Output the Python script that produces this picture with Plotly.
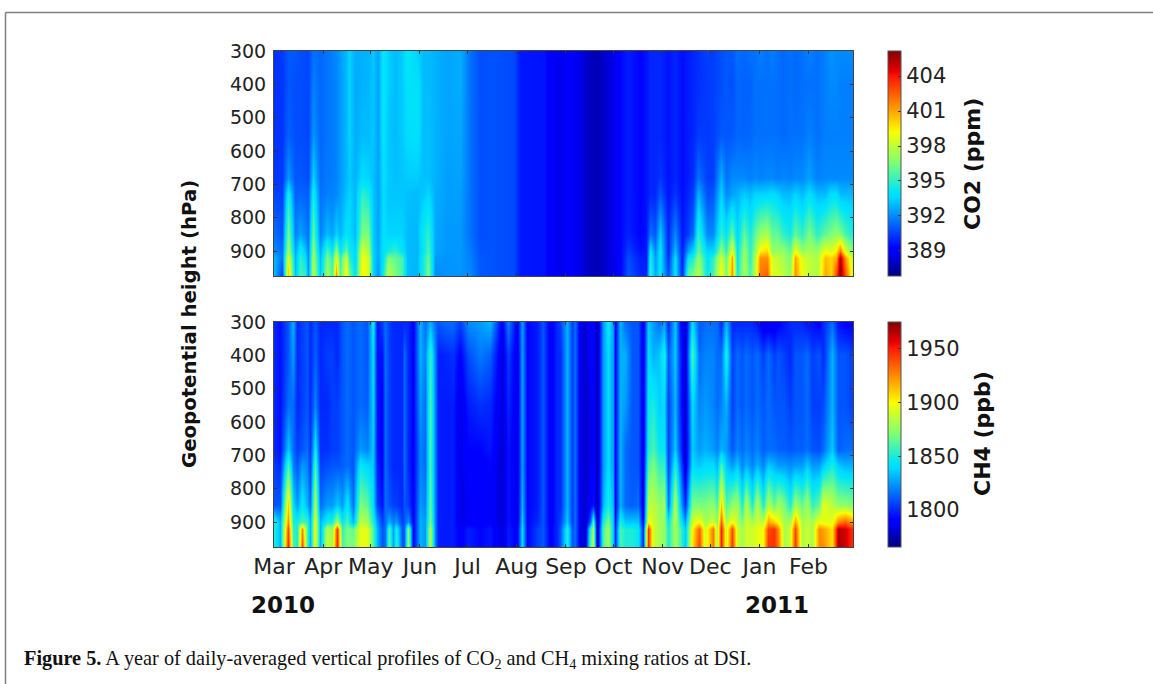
import numpy as np
import plotly.graph_objects as go

levels = [300, 400, 550, 680, 730, 850, 900, 920, 975]
month_days = [0, 31, 61, 92, 122, 153, 184, 214, 245, 275, 306, 337]
month_labels = ["Mar", "Apr", "May", "Jun", "Jul", "Aug", "Sep", "Oct", "Nov", "Dec", "Jan", "Feb"]
pressure_ticks = [300, 400, 500, 600, 700, 800, 900]
co2_ticks = [389, 392, 395, 398, 401, 404]
ch4_ticks = [1800, 1850, 1900, 1950]

# ---- CO2 (ppm): one profile per date, levels as above ----
co2_days_spring = [0, 4.8, 9, 13.2, 16.4, 19.6, 21.6, 24.8, 29, 33.2, 36.4, 39, 41.6, 45.4, 47.5, 51, 55.3, 59.5, 62.6, 65.8, 68.5, 72, 76.3, 80.5, 83.6, 90, 94, 97.3, 101.5]
co2_spring = [
    [390.2, 390.2, 390.2, 390.3, 390.6, 391.5, 392, 393, 393],
    [390.4, 390.3, 390.3, 390.4, 390.5, 391, 391.5, 391.5, 390.5],
    [391, 391, 391.2, 392.3, 394.5, 396.5, 397.5, 399, 400.5],
    [391, 390.8, 390.8, 391, 391.2, 391.8, 392.5, 392.8, 393],
    [390.8, 390.8, 390.8, 391, 391.3, 392.5, 394.5, 395, 395.5],
    [390.7, 390.7, 390.7, 390.9, 391.2, 392, 393.2, 394, 395],
    [390.7, 390.6, 390.6, 390.7, 391, 391.5, 391.8, 392, 392],
    [391.5, 391.8, 392.2, 393.5, 394.5, 396, 397, 397.5, 398],
    [391.3, 391.3, 391.3, 391.4, 391.5, 391.8, 392.5, 393, 393.2],
    [391.6, 391.6, 391.6, 391.7, 391.8, 393, 395.5, 396.5, 397.5],
    [391.8, 391.7, 391.7, 391.7, 391.8, 392.5, 394, 395, 395.5],
    [392, 391.9, 391.9, 391.9, 392, 393.5, 397, 399, 401.5],
    [392.4, 392.3, 392.3, 392.3, 392.4, 392.8, 394, 395, 395.5],
    [392.9, 392.9, 392.9, 392.9, 393.1, 394, 396, 398.5, 399.5],
    [393.5, 393.5, 393.5, 393.3, 393.5, 393.7, 394.5, 395, 396.5],
    [392.7, 392.6, 392.7, 392.8, 392.9, 393, 393.5, 393.5, 394],
    [392.8, 392.8, 393, 393.7, 395, 396.5, 398.5, 399, 399.5],
    [392.8, 392.9, 393, 393.5, 394.5, 396.5, 397.5, 398.5, 398.5],
    [393.2, 393.2, 393.2, 393.1, 393.2, 393.3, 393.5, 393.5, 393.5],
    [392.5, 392.5, 392.5, 392.5, 392.5, 392.5, 392.6, 392.6, 392.2],
    [394.2, 394.2, 394, 393.8, 393.7, 393.9, 394, 394, 394.5],
    [393.4, 393.4, 393.2, 393.3, 393.2, 393.5, 394.5, 396.5, 398],
    [393, 393, 393, 393.1, 393.2, 393.5, 395, 396, 396.5],
    [393.3, 393.3, 393.3, 393.2, 393.2, 393.5, 394, 395.5, 395.5],
    [394.2, 394, 393.7, 393.3, 393.1, 393, 393, 393, 393],
    [393.4, 393.9, 393.9, 393.3, 393, 392.9, 392.9, 392.9, 392.8],
    [393, 393, 393, 393.1, 393.2, 394.3, 394, 394.5, 394.5],
    [393, 393, 393.1, 393.1, 393.6, 395, 395.5, 396, 396.5],
    [392.8, 392.8, 392.8, 392.8, 392.7, 392.6, 392.5, 392.3, 392],
]
co2_days_summer = [109, 117, 123.6, 130, 138, 151, 155, 170, 174, 180, 186.6, 193, 198, 203.5, 208, 215, 219, 223.4, 231, 234.6]
co2_summer = [
    [392.5, 392.5, 392.5, 392.4, 392.4, 392.3, 392.3, 392.2, 392.2],
    [392.7, 392.7, 392.6, 392.5, 392.4, 392.3, 392.3, 392.3, 392.2],
    [391.5, 391.5, 391.5, 391.5, 391.5, 391.5, 391.7, 391.8, 392],
    [390.8, 390.8, 390.8, 390.8, 390.8, 390.8, 390.9, 391, 391],
    [390.9, 390.9, 390.9, 390.9, 390.9, 390.9, 390.9, 390.9, 390.9],
    [390.7, 390.7, 390.7, 390.7, 390.7, 390.7, 390.7, 390.7, 390.7],
    [389.7, 389.7, 389.7, 389.7, 389.7, 389.7, 389.7, 389.7, 389.7],
    [389.6, 389.6, 389.6, 389.6, 389.6, 389.6, 389.6, 389.6, 389.6],
    [388.9, 388.9, 388.9, 388.9, 388.9, 388.9, 388.9, 388.9, 388.9],
    [388.7, 388.7, 388.7, 388.7, 388.7, 388.7, 388.7, 388.7, 388.7],
    [389, 389, 389, 389, 389, 389, 389, 389, 389],
    [388.6, 388.6, 388.6, 388.6, 388.6, 388.6, 388.6, 388.6, 388.6],
    [388, 388, 388, 388, 388, 388, 388, 388, 388],
    [387.7, 387.7, 387.7, 387.7, 387.7, 387.7, 387.7, 387.7, 387.7],
    [388.2, 388.2, 388.2, 388.2, 388.2, 388.2, 388.2, 388.2, 388.2],
    [388.7, 388.7, 388.7, 388.7, 388.7, 388.7, 388.7, 388.7, 388.7],
    [389.4, 389.4, 389.4, 389.4, 389.4, 389.4, 389.4, 389.4, 389.4],
    [389.8, 389.8, 389.8, 389.8, 389.8, 389.9, 390.5, 390.8, 391],
    [389.3, 389.3, 389.3, 389.3, 389.3, 389.3, 389.5, 389.8, 390],
    [389.6, 389.6, 389.6, 389.6, 389.6, 389.6, 389.7, 389.8, 390],
]
co2_days_autumn = [237, 240, 243.4, 248.6, 253, 257, 261, 264.4, 267.5, 273, 277, 281.5, 285, 288.8, 292, 296, 300, 303.2]
co2_autumn = [
    [390, 390, 390, 390, 390, 391.5, 394, 394.5, 395],
    [390, 390, 390, 390, 390, 391, 392, 392.3, 392.5],
    [390, 390, 390, 390.3, 391, 393.3, 394, 394, 394],
    [389.6, 389.6, 389.6, 389.6, 389.6, 390, 390, 390.2, 390.8],
    [390, 390, 390, 390, 390.3, 392, 393, 393.8, 394],
    [389.5, 389.5, 389.5, 389.5, 389.5, 389.7, 389.8, 389.8, 390],
    [389.8, 389.8, 389.8, 389.8, 390, 390.5, 392.5, 394, 396],
    [390, 390, 390, 390.2, 390.5, 391.5, 393.5, 394.8, 396.5],
    [390.2, 390.2, 390.4, 391.5, 392.8, 395, 396, 397, 398],
    [390.5, 390.4, 390.4, 390.5, 390.8, 392, 393.5, 394, 394],
    [390.5, 390.5, 390.5, 390.5, 391, 392, 393.5, 395, 395.5],
    [390.8, 390.8, 391, 392.8, 393.5, 395, 397, 398.5, 399.5],
    [391, 391, 391, 391.5, 392, 394, 395, 396, 396.5],
    [391, 390.8, 391, 392, 392.5, 396, 399, 401, 401.5],
    [391.5, 391.3, 391.3, 392, 392.8, 393.5, 394, 394, 394.5],
    [391.3, 391.2, 391.2, 392, 393.3, 396, 397, 397.5, 397.5],
    [391.5, 391.2, 391.3, 391.8, 393, 394.5, 395, 395, 395.5],
    [391.5, 391.5, 391.5, 392, 393.5, 396, 397, 397.8, 398],
]
co2_days_winter = [306.4, 310.7, 314, 317, 321, 325.5, 328.6, 333, 337, 342.2, 347.5, 351, 354, 357, 360, 365]
co2_winter = [
    [391.8, 391.5, 391.5, 391.8, 393.5, 397, 399.5, 401.5, 402],
    [391.5, 391.5, 391.5, 392, 393.6, 397.5, 400, 401.5, 402.5],
    [391.8, 391.5, 391.5, 392, 393.8, 396, 397, 398.5, 398.5],
    [391.5, 391.5, 391.5, 391.8, 393.5, 396, 397, 398, 398.5],
    [391.3, 391.3, 391.3, 392, 393, 395, 397, 397.5, 398],
    [391.5, 391.5, 391.5, 391.8, 393, 394.5, 396, 396.5, 397],
    [391.3, 391.3, 391.5, 392, 393.5, 396, 399, 401, 401.5],
    [391.5, 391.5, 391.5, 392, 393, 395, 397, 398.5, 399],
    [391.8, 391.5, 391.8, 392.5, 393.8, 396.5, 397.5, 398, 398],
    [391.5, 391.5, 391.5, 391.8, 393, 395, 397, 397.5, 397.5],
    [391.8, 391.8, 391.8, 392, 393, 396, 399, 400.5, 401],
    [392.2, 392, 391.8, 392, 393.8, 396.5, 398.5, 400, 400],
    [392, 392, 391.8, 392, 393.8, 397, 399.5, 401, 403],
    [392, 391.8, 391.8, 392, 393, 396.5, 402, 405.5, 405.9],
    [392, 391.8, 391.8, 392, 393, 395.5, 398.5, 401.5, 403],
    [392, 391.8, 391.8, 392, 393, 394.5, 396.5, 397.5, 398],
]

# ---- CH4 (ppb) ----
ch4_days_spring = [0, 3.8, 9, 12.2, 14.3, 17.5, 20.6, 22.7, 25.9, 29, 33.2, 36.4, 39.5, 42.7, 46.2, 50, 54.2, 58.4, 62.2, 64.7, 67.9, 70, 72.7, 75.2, 76.9, 80.5, 82, 84.7, 87.9, 92, 95.2, 98.4, 101.5]
ch4_spring = [
    [1800, 1800, 1800, 1800, 1805, 1810, 1850, 1850, 1850],
    [1795, 1795, 1795, 1795, 1800, 1810, 1830, 1830, 1830],
    [1810, 1810, 1815, 1835, 1860, 1910, 1925, 1940, 1950],
    [1830, 1825, 1815, 1815, 1820, 1840, 1850, 1855, 1860],
    [1800, 1800, 1800, 1805, 1810, 1825, 1850, 1850, 1850],
    [1805, 1805, 1805, 1810, 1825, 1845, 1860, 1925, 1940],
    [1810, 1810, 1810, 1815, 1820, 1830, 1855, 1860, 1860],
    [1800, 1800, 1800, 1802, 1805, 1815, 1830, 1830, 1830],
    [1810, 1812, 1820, 1845, 1860, 1885, 1895, 1900, 1900],
    [1800, 1800, 1800, 1802, 1805, 1815, 1830, 1830, 1830],
    [1800, 1805, 1800, 1802, 1808, 1825, 1850, 1885, 1890],
    [1800, 1805, 1805, 1805, 1810, 1825, 1850, 1875, 1880],
    [1800, 1800, 1805, 1805, 1810, 1835, 1880, 1945, 1950],
    [1810, 1810, 1810, 1810, 1812, 1825, 1845, 1855, 1860],
    [1815, 1815, 1815, 1815, 1815, 1845, 1860, 1870, 1870],
    [1810, 1810, 1810, 1810, 1810, 1815, 1830, 1865, 1870],
    [1815, 1815, 1815, 1825, 1845, 1870, 1885, 1895, 1895],
    [1810, 1810, 1812, 1820, 1838, 1865, 1880, 1895, 1895],
    [1845, 1840, 1838, 1835, 1835, 1840, 1850, 1860, 1860],
    [1795, 1795, 1795, 1795, 1798, 1805, 1825, 1830, 1830],
    [1805, 1795, 1790, 1790, 1790, 1795, 1805, 1810, 1810],
    [1815, 1815, 1815, 1815, 1815, 1815, 1815, 1815, 1815],
    [1805, 1805, 1805, 1805, 1805, 1810, 1830, 1860, 1865],
    [1800, 1800, 1800, 1800, 1800, 1805, 1820, 1825, 1825],
    [1800, 1800, 1800, 1800, 1800, 1805, 1825, 1850, 1855],
    [1800, 1800, 1800, 1800, 1800, 1800, 1805, 1810, 1810],
    [1800, 1815, 1815, 1815, 1815, 1810, 1810, 1810, 1810],
    [1800, 1800, 1800, 1800, 1800, 1805, 1825, 1875, 1880],
    [1790, 1790, 1790, 1790, 1790, 1790, 1790, 1790, 1790],
    [1830, 1830, 1825, 1820, 1820, 1825, 1830, 1830, 1830],
    [1815, 1820, 1815, 1815, 1815, 1820, 1825, 1825, 1825],
    [1830, 1855, 1860, 1860, 1860, 1865, 1870, 1885, 1885],
    [1815, 1820, 1820, 1820, 1820, 1820, 1820, 1820, 1820],
]
ch4_days_summer = [103.6, 109, 113, 117.3, 122.6, 130, 136.2, 143.6, 147.8, 153, 156.6, 159.3, 165.6, 169.8, 174, 178.2, 180.3, 184.5, 187.7, 189.8, 193, 196, 199.2, 201.3, 203.9, 207.6, 210.8, 213.5, 215, 218.2, 221.3, 225.5, 229.7, 232.9]
ch4_summer = [
    [1810, 1798, 1798, 1798, 1798, 1798, 1798, 1798, 1798],
    [1815, 1800, 1797, 1797, 1797, 1797, 1797, 1797, 1797],
    [1815, 1802, 1798, 1798, 1798, 1798, 1798, 1798, 1798],
    [1805, 1790, 1784, 1784, 1784, 1784, 1784, 1788, 1788],
    [1822, 1808, 1797, 1792, 1790, 1788, 1788, 1798, 1798],
    [1825, 1818, 1802, 1792, 1788, 1788, 1788, 1792, 1792],
    [1832, 1812, 1800, 1796, 1792, 1792, 1792, 1796, 1796],
    [1788, 1782, 1782, 1780, 1780, 1780, 1780, 1782, 1782],
    [1820, 1805, 1800, 1796, 1796, 1796, 1796, 1798, 1798],
    [1788, 1784, 1784, 1784, 1784, 1784, 1784, 1788, 1788],
    [1825, 1825, 1825, 1825, 1825, 1830, 1835, 1840, 1840],
    [1792, 1792, 1792, 1792, 1792, 1792, 1792, 1792, 1792],
    [1797, 1797, 1797, 1797, 1797, 1797, 1800, 1805, 1805],
    [1810, 1810, 1810, 1810, 1810, 1810, 1810, 1810, 1810],
    [1787, 1787, 1787, 1787, 1787, 1787, 1787, 1790, 1790],
    [1800, 1800, 1800, 1800, 1800, 1800, 1800, 1800, 1800],
    [1805, 1800, 1800, 1800, 1800, 1800, 1805, 1810, 1810],
    [1830, 1830, 1830, 1830, 1830, 1830, 1835, 1850, 1850],
    [1805, 1805, 1805, 1805, 1805, 1805, 1805, 1810, 1810],
    [1815, 1815, 1815, 1815, 1815, 1815, 1815, 1815, 1815],
    [1785, 1785, 1785, 1785, 1785, 1785, 1785, 1785, 1785],
    [1780, 1780, 1780, 1780, 1780, 1780, 1780, 1780, 1780],
    [1790, 1790, 1785, 1785, 1785, 1790, 1810, 1850, 1860],
    [1790, 1790, 1790, 1790, 1790, 1795, 1860, 1880, 1885],
    [1775, 1775, 1775, 1775, 1775, 1775, 1775, 1775, 1775],
    [1825, 1825, 1825, 1825, 1825, 1830, 1850, 1860, 1860],
    [1845, 1840, 1840, 1840, 1840, 1850, 1870, 1880, 1880],
    [1825, 1825, 1825, 1825, 1825, 1830, 1835, 1835, 1835],
    [1790, 1790, 1790, 1790, 1790, 1790, 1795, 1800, 1800],
    [1830, 1830, 1830, 1830, 1830, 1830, 1850, 1860, 1860],
    [1815, 1830, 1825, 1815, 1815, 1815, 1835, 1850, 1850],
    [1810, 1810, 1810, 1810, 1810, 1812, 1835, 1850, 1850],
    [1810, 1810, 1810, 1810, 1810, 1815, 1835, 1845, 1845],
    [1785, 1785, 1785, 1785, 1785, 1785, 1790, 1800, 1800],
]
ch4_days_autumn = [236, 239.2, 243, 245.9, 248.6, 252.8, 256, 259.1, 263.4, 268.2, 271.7, 276.6, 279, 281.6, 284.8, 288.5, 291.7, 294.9, 297.4, 301.2, 304.3]
ch4_autumn = [
    [1835, 1840, 1845, 1850, 1860, 1885, 1900, 1945, 1945],
    [1825, 1830, 1850, 1860, 1870, 1885, 1890, 1890, 1890],
    [1815, 1835, 1835, 1845, 1855, 1875, 1880, 1880, 1880],
    [1825, 1850, 1840, 1845, 1855, 1880, 1875, 1875, 1875],
    [1800, 1810, 1805, 1805, 1805, 1815, 1845, 1850, 1850],
    [1835, 1835, 1830, 1835, 1850, 1885, 1885, 1880, 1880],
    [1795, 1800, 1800, 1805, 1815, 1835, 1850, 1860, 1860],
    [1780, 1780, 1780, 1780, 1782, 1800, 1825, 1835, 1835],
    [1840, 1860, 1840, 1835, 1840, 1870, 1890, 1900, 1905],
    [1810, 1815, 1820, 1825, 1835, 1870, 1900, 1935, 1940],
    [1815, 1820, 1825, 1830, 1840, 1870, 1880, 1890, 1890],
    [1815, 1820, 1820, 1825, 1840, 1875, 1890, 1930, 1930],
    [1815, 1815, 1815, 1820, 1830, 1860, 1875, 1880, 1880],
    [1800, 1815, 1820, 1830, 1860, 1910, 1935, 1950, 1950],
    [1830, 1850, 1830, 1825, 1835, 1860, 1880, 1890, 1890],
    [1800, 1805, 1805, 1810, 1825, 1875, 1900, 1940, 1945],
    [1800, 1815, 1815, 1820, 1835, 1880, 1885, 1890, 1890],
    [1800, 1810, 1810, 1815, 1820, 1850, 1870, 1880, 1880],
    [1800, 1815, 1815, 1820, 1830, 1885, 1890, 1890, 1890],
    [1800, 1810, 1810, 1815, 1820, 1850, 1880, 1890, 1890],
    [1795, 1815, 1815, 1820, 1830, 1885, 1890, 1895, 1895],
]
ch4_days_winter = [308.5, 311.7, 314.9, 318, 321.6, 325.4, 328.5, 332.8, 335.9, 339, 343.3, 346.4, 351.6, 355.8, 360, 365]
ch4_winter = [
    [1785, 1805, 1810, 1812, 1820, 1850, 1885, 1900, 1900],
    [1785, 1815, 1815, 1815, 1835, 1885, 1920, 1940, 1945],
    [1785, 1805, 1810, 1815, 1830, 1865, 1910, 1945, 1945],
    [1790, 1810, 1810, 1812, 1825, 1880, 1900, 1925, 1930],
    [1795, 1805, 1810, 1812, 1825, 1870, 1880, 1880, 1880],
    [1800, 1800, 1805, 1810, 1822, 1850, 1880, 1890, 1890],
    [1800, 1810, 1810, 1812, 1825, 1880, 1920, 1940, 1945],
    [1800, 1810, 1810, 1812, 1825, 1865, 1880, 1880, 1880],
    [1795, 1815, 1815, 1815, 1835, 1880, 1885, 1890, 1890],
    [1795, 1805, 1805, 1810, 1825, 1855, 1880, 1880, 1880],
    [1790, 1810, 1805, 1808, 1825, 1865, 1900, 1925, 1925],
    [1800, 1800, 1808, 1815, 1835, 1895, 1895, 1920, 1925],
    [1815, 1830, 1830, 1835, 1850, 1885, 1895, 1905, 1905],
    [1795, 1810, 1810, 1812, 1835, 1875, 1925, 1965, 1968],
    [1790, 1810, 1810, 1815, 1830, 1875, 1935, 1960, 1960],
    [1790, 1805, 1805, 1815, 1830, 1870, 1920, 1945, 1945],
]

co2_days = co2_days_spring + co2_days_summer + co2_days_autumn + co2_days_winter
co2_z = np.array(co2_spring + co2_summer + co2_autumn + co2_winter).T
ch4_days = ch4_days_spring + ch4_days_summer + ch4_days_autumn + ch4_days_winter
ch4_z = np.array(ch4_spring + ch4_summer + ch4_autumn + ch4_winter).T

jet = [[0, "rgb(0,0,127)"], [0.11, "rgb(0,0,255)"], [0.125, "rgb(0,0,255)"], [0.35, "rgb(0,219,255)"],
       [0.375, "rgb(0,229,247)"], [0.5, "rgb(124,255,121)"], [0.64, "rgb(247,255,0)"], [0.66, "rgb(255,234,0)"],
       [0.89, "rgb(255,18,0)"], [0.91, "rgb(232,0,0)"], [1, "rgb(127,0,0)"]]

W, H = 1153, 684
TICK = "DejaVu Sans"
INK = "#222222"
def px(x): return x / W
def py(y): return 1 - y / H

def cbar(ticks, top, bottom):
    return dict(x=px(888), xanchor="left", thickness=13, thicknessmode="pixels",
                y=py(top), yanchor="top", len=(bottom - top) / H, lenmode="fraction",
                tickvals=ticks, ticks="inside", ticklen=3, tickcolor="#333333",
                tickfont=dict(family=TICK, size=21, color=INK), outlinecolor="#555555", outlinewidth=1, xpad=0, ypad=0)

fig = go.Figure()
fig.add_trace(go.Heatmap(x=co2_days, y=levels, z=co2_z, zmin=386.85, zmax=406.15, colorscale=jet,
                         zsmooth="best", xaxis="x", yaxis="y", colorbar=cbar(co2_ticks, 51, 276)))
fig.add_trace(go.Heatmap(x=ch4_days, y=levels, z=ch4_z, zmin=1765.5, zmax=1975, colorscale=jet,
                         zsmooth="best", xaxis="x2", yaxis="y2", colorbar=cbar(ch4_ticks, 322, 547)))

axis_common = dict(showgrid=False, zeroline=False, showline=True, mirror="allticks", linecolor="#444444", linewidth=1,
                   ticks="inside", ticklen=3, tickcolor="#333333")
xfont = dict(family=TICK, size=22, color=INK)
yfont = dict(family=TICK, size=19, color=INK)
fig.update_layout(
    width=W, height=H, margin=dict(l=0, r=0, t=0, b=0, autoexpand=False), paper_bgcolor="white", plot_bgcolor="white",
    xaxis=dict(domain=[px(274), px(853)], range=[0, 365], anchor="y", tickvals=month_days, showticklabels=False, tickfont=xfont, **axis_common),
    yaxis=dict(domain=[py(276), py(51)], range=[975, 300], anchor="x", tickvals=pressure_ticks, tickfont=yfont, ticklabelstandoff=3, **axis_common),
    xaxis2=dict(domain=[px(274), px(853)], range=[0, 365], anchor="y2", tickvals=month_days, ticktext=month_labels, tickfont=xfont, **axis_common),
    yaxis2=dict(domain=[py(547), py(322)], range=[975, 300], anchor="x2", tickvals=pressure_ticks, tickfont=yfont, ticklabelstandoff=3, **axis_common),
    shapes=[dict(type="line", xref="paper", yref="paper", x0=px(5.5), x1=px(5.5), y0=0, y1=py(12.5),
                 line=dict(color="#808080", width=1.5), layer="below"),
            dict(type="line", xref="paper", yref="paper", x0=px(5.5), x1=1, y0=py(12.5), y1=py(12.5),
                 line=dict(color="#808080", width=1.5), layer="below")],
)

def note(text, x, y, size, family=TICK, rot=0, bold=False, xanchor="center", color="#111111"):
    fig.add_annotation(xref="paper", yref="paper", x=px(x), y=py(y), text=f"<b>{text}</b>" if bold else text,
                       showarrow=False, textangle=rot, xanchor=xanchor, yanchor="middle",
                       font=dict(family=family, size=size, color=color))

note("Geopotential height (hPa)", 190, 324, 19.7, rot=-90, bold=True)
note("CO2 (ppm)", 973, 164, 22, rot=-90, bold=True)
note("CH4 (ppb)", 982, 434, 22, rot=-90, bold=True)
note("2010", 283, 605, 23, bold=True)
note("2011", 777, 605, 23, bold=True)
note("<b>Figure 5.</b> A year of daily-averaged vertical profiles of CO<sub>2</sub> and CH<sub>4</sub> mixing ratios at DSI.",
     22, 659, 20.3, family="Liberation Serif", xanchor="left")

fig.write_html("out.html", config={"displayModeBar": False},
               post_script="document.body.style.margin='0';document.documentElement.style.overflow='hidden';")
